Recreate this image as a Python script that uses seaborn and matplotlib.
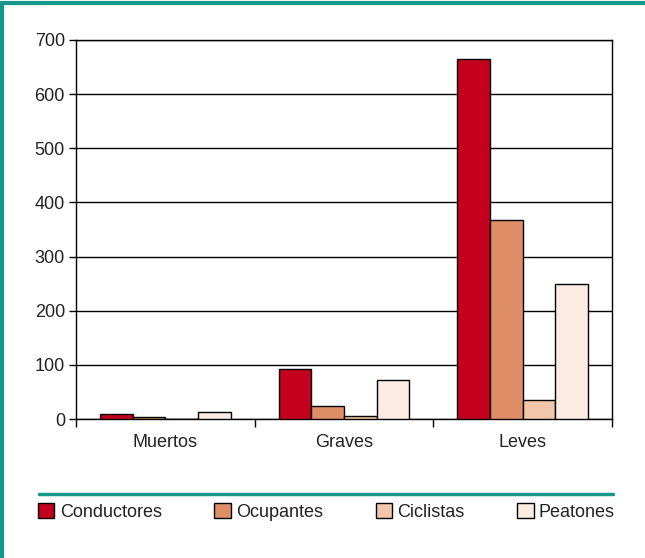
import pandas as pd
import matplotlib.pyplot as plt
import seaborn as sns
from matplotlib.lines import Line2D
from matplotlib.patches import Patch

categorias = ["Muertos", "Graves", "Leves"]
grupos = ["Conductores", "Ocupantes", "Ciclistas", "Peatones"]
conductores = [9, 92, 665]
ocupantes = [3, 24, 368]
ciclistas = [0, 5, 35]
peatones = [13, 72, 249]
colores = ["#C4001F", "#E08E68", "#F2C6AA", "#FBEBE1"]
teal = "#16998C"

rows = []
for g, vals in zip(grupos, [conductores, ocupantes, ciclistas, peatones]):
    for c, v in zip(categorias, vals):
        rows.append({"Categoria": c, "Grupo": g, "Valor": v})
df = pd.DataFrame(rows)

sns.set_style("white")
plt.rcParams["font.family"] = ["Liberation Sans", "DejaVu Sans"]
plt.rcParams["text.color"] = "#222222"
plt.rcParams["xtick.labelcolor"] = "#222222"
plt.rcParams["ytick.labelcolor"] = "#222222"

fig = plt.figure(figsize=(6.45, 5.58), dpi=100)
ax = fig.add_axes([76 / 645, 1 - 419 / 558, (612 - 76) / 645, (419 - 40) / 558])

sns.barplot(data=df, x="Categoria", y="Valor", hue="Grupo", order=categorias,
            hue_order=grupos, palette=colores, width=0.73, edgecolor="black",
            linewidth=1, saturation=1, legend=False, ax=ax, zorder=3)

ax.set_ylim(0, 700)
ax.set_yticks(range(0, 701, 100))
ax.yaxis.grid(True, color="black", linewidth=1, zorder=0)
ax.set_axisbelow(True)
ax.set_xlabel("")
ax.set_ylabel("")
for s in ax.spines.values():
    s.set_color("black")
    s.set_linewidth(1)

ax.tick_params(axis="y", length=5, width=1, color="black", labelsize=13, pad=3, left=True)
ax.tick_params(axis="x", which="major", length=0, labelsize=13, pad=11)
ax.set_xticks([-0.5, 0.5, 1.5, 2.5], minor=True)
ax.tick_params(axis="x", which="minor", length=6, width=1, color="black", bottom=True)

# marco teal
fig.add_artist(Line2D([2 / 645, 2 / 645], [0, 1 - 3 / 558], color=teal, linewidth=3,
                      transform=fig.transFigure))
fig.add_artist(Line2D([0, 1], [1 - 3 / 558, 1 - 3 / 558], color=teal, linewidth=3,
                      transform=fig.transFigure))
fig.add_artist(Line2D([39 / 645, 613 / 645], [1 - 494 / 558, 1 - 494 / 558], color=teal,
                      linewidth=2.5, transform=fig.transFigure))

handles = [Patch(facecolor=c, edgecolor="black", linewidth=1) for c in colores]
fig.legend(handles, grupos, loc="lower left", ncol=4, mode="expand",
           bbox_to_anchor=(38 / 645, 1 - 521 / 558, (615 - 38) / 645, 26 / 558),
           frameon=False, fontsize=13, handlelength=0.9, handleheight=0.9,
           handletextpad=0.3, borderpad=0, borderaxespad=0)

plt.savefig("out.png", dpi=100)
plt.close()
